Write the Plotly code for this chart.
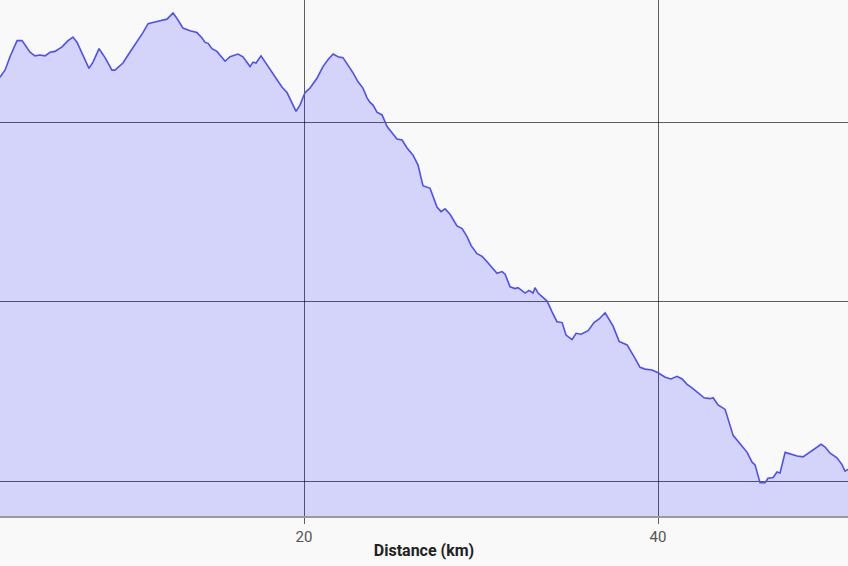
import plotly.graph_objects as go

distance_km = [
    2.82, 3.11, 3.39, 3.79, 4.07, 4.24, 4.52, 4.80, 5.08, 5.37, 5.65, 5.93, 6.33, 6.67, 6.95,
    7.18, 7.51, 7.85, 8.08, 8.42, 8.76, 9.15, 9.32, 9.77, 10.06, 10.45, 10.90, 11.19, 11.47,
    11.81, 12.26, 12.60, 12.88, 13.16, 13.56, 13.95, 14.24, 14.41, 14.58, 14.80, 15.08, 15.25,
    15.54, 15.82, 16.27, 16.55, 16.78, 16.95, 17.12, 17.29, 17.57, 17.80, 18.19, 18.47, 18.76,
    19.04, 19.32, 19.55, 19.77, 20.06, 20.34, 20.73, 21.07, 21.36, 21.64, 21.92, 22.20, 22.49,
    22.77, 23.05, 23.33, 23.56, 23.73, 23.90, 24.12, 24.41, 24.69, 24.97, 25.25, 25.54, 25.82,
    26.16, 26.44, 26.72, 27.12, 27.51, 27.74, 27.97, 28.25, 28.64, 28.93, 29.21, 29.44, 29.77,
    30.06, 30.34, 30.62, 30.90, 31.19, 31.36, 31.64, 31.92, 32.09, 32.49, 32.71, 32.94, 33.05,
    33.22, 33.45, 33.73, 34.01, 34.29, 34.58, 34.80, 35.14, 35.37, 35.65, 36.05, 36.38, 36.67,
    37.01, 37.18, 37.46, 37.80, 38.25, 38.70, 38.98, 39.27, 39.66, 40.00, 40.40, 40.73, 41.07,
    41.36, 41.64, 41.92, 42.26, 42.60, 42.94, 43.11, 43.39, 43.79, 44.24, 44.63, 45.03, 45.31,
    45.48, 45.76, 46.05, 46.21, 46.50, 46.72, 46.89, 47.18, 47.46, 47.85, 48.19, 48.47, 48.87,
    49.21, 49.44, 49.72, 50.11, 50.40, 50.56, 50.73,
]

elevation_m = [
    551, 559, 574, 592, 592, 587, 579, 575, 576, 575, 579, 580, 585, 592, 596,
    590, 576, 561, 568, 583, 573, 559, 559, 567, 576, 587, 601, 611, 612,
    614, 616, 623, 615, 606, 603, 601, 595, 590, 589, 583, 580, 576,
    569, 574, 577, 574, 568, 563, 568, 567, 575, 568, 557, 548, 540,
    534, 523, 513, 520, 534, 539, 550, 563, 571, 577, 574, 573, 565,
    556, 546, 539, 528, 523, 520, 512, 509, 496, 489, 482, 481, 472,
    464, 453, 430, 427, 406, 401, 404, 398, 385, 382, 373, 363, 354,
    351, 345, 339, 332, 334, 331, 317, 315, 316, 310, 313, 310, 316,
    310, 306, 301, 289, 278, 277, 263, 258, 265, 264, 268, 277, 281,
    288, 282, 273, 256, 252, 237, 227, 225, 224, 221, 216, 214, 217,
    214, 208, 204, 198, 193, 192, 193, 185, 180, 151, 142, 132, 121,
    118, 98, 98, 103, 104, 110, 109, 132, 130, 128, 127, 131, 137,
    141, 138, 131, 126, 118, 111, 113,
]

x_tick_values = [20, 40]
y_grid_values = [100, 300, 500]

fig = go.Figure()
fig.add_trace(go.Scatter(
    x=distance_km,
    y=elevation_m,
    mode="lines",
    line=dict(color="#4f4ff2", width=1.6),
    fill="tozeroy",
    fillcolor="rgba(0,0,255,0.15)",
    hoverinfo="skip",
    showlegend=False,
))

fig.update_layout(
    width=848,
    height=566,
    margin=dict(l=0, r=0, t=0, b=50),
    paper_bgcolor="#f9f9f9",
    plot_bgcolor="#f9f9f9",
    font=dict(family="Roboto", size=15, color="#444"),
    showlegend=False,
)

fig.update_xaxes(
    range=[2.825, 50.73],
    tickmode="array",
    tickvals=x_tick_values,
    ticktext=[str(v) for v in x_tick_values],
    showgrid=True,
    gridcolor="rgba(0,0,0,0.62)",
    gridwidth=1,
    ticks="outside",
    ticklen=6,
    tickcolor="rgba(0,0,0,0.62)",
    tickfont=dict(family="Roboto", size=15, color="#555"),
    showline=True,
    linecolor="#9a9a9a",
    linewidth=2,
    zeroline=False,
    title=dict(text="<b>Distance (km)</b>", font=dict(family="Roboto", size=16, color="#222"), standoff=0),
)

fig.update_yaxes(
    range=[60.9, 637.4],
    tickmode="array",
    tickvals=y_grid_values,
    showticklabels=False,
    showgrid=True,
    gridcolor="rgba(0,0,0,0.62)",
    gridwidth=1,
    zeroline=False,
    showline=False,
)

fig.write_html(
    "out.html",
    config={"displayModeBar": False},
    post_script="document.body.style.margin='0';document.body.style.overflow='hidden';document.body.style.background='#f9f9f9';",
)
